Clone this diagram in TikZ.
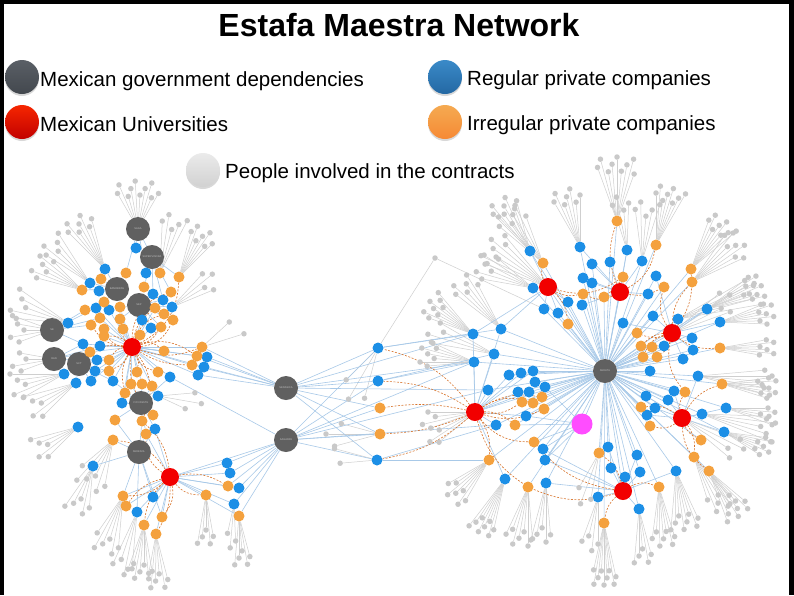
\documentclass[tikz,border=0pt]{standalone}
\usepackage{fontspec}
\setmainfont{Liberation Sans}
\usetikzlibrary{calc,shadows}

\definecolor{govgray}{HTML}{606060}
\definecolor{unired}{HTML}{F20000}
\definecolor{regblue}{HTML}{1C8FE6}
\definecolor{irrorange}{HTML}{F4A13E}
\definecolor{persongray}{HTML}{C9C9C9}
\definecolor{linkblue}{HTML}{A8C9E8}
\definecolor{linkgray}{HTML}{CFCFCF}
\definecolor{shadyline}{HTML}{D8742C}
\definecolor{pinknode}{HTML}{FF4DFF}
\definecolor{keygraytop}{HTML}{5A5F66}
\definecolor{keygraybot}{HTML}{43484E}
\definecolor{keybluetop}{HTML}{3A8AC8}
\definecolor{keybluebot}{HTML}{2468A3}

\pgfdeclarelayer{paper}
\pgfdeclarelayer{edges}
\pgfsetlayers{paper,edges,main}

\tikzset{
  gov/.style={circle, fill=govgray, minimum size=24pt, inner sep=0pt, text=white!75!black, font=\fontsize{2.6}{3}\selectfont},
  uni/.style={circle, fill=unired, minimum size=18pt, inner sep=0pt},
  reg/.style={circle, fill=regblue, minimum size=11pt, inner sep=0pt},
  irr/.style={circle, fill=irrorange, minimum size=11pt, inner sep=0pt},
  person/.style={circle, fill=persongray, minimum size=5.5pt, inner sep=0pt},
  contract/.style={draw=linkblue, line width=0.6pt},
  hire/.style={draw=linkgray, line width=0.5pt},
  shady/.style={draw=shadyline, line width=0.6pt, dash pattern=on 2pt off 1.5pt},
  legdot/.style={circle, minimum size=34pt, inner sep=0pt, drop shadow={opacity=0.3, shadow xshift=0pt, shadow yshift=-2pt}},
  legtext/.style={anchor=base west, inner sep=0pt, font=\fontsize{20.5}{24}\selectfont},
}

% people hanging from one company: parent / angle / spread / count / radius
\def\fanlist{G1/270/60/10/34, lb2/240/30/7/45, lo5/210/30/6/40, lb4/225/25/5/45,
  lo3/300/30/7/40, lo2/285/25/5/45, lb8/325/25/4/38, G5/180/40/5/28, lb11/200/30/5/45,
  G6/175/30/4/28, lb21/165/30/5/40, lb22/150/30/5/40, lb29/150/30/5/35, lo39/120/40/6/40,
  lb30/110/30/5/35, lo40/110/30/6/45, lb32/105/20/4/50, lo43/95/30/7/40, lo44/88/25/6/40,
  lo45/90/20/5/35, lb36/95/15/3/30, lo47/85/20/5/35, lb27/10/30/3/30, lo24/330/25/2/30,
  cb1/120/30/3/45, co2/180/30/3/40, cb3/185/20/2/30,
  ro1/270/40/9/50, rb2/255/30/7/45, rb1/240/30/7/45, ro3/235/30/6/50, R3/215/30/7/60,
  rb10/205/30/6/45, ro2/285/30/8/45, rb6/275/25/5/45, rb3/262/20/4/40, ro5/305/30/8/45,
  ro6/320/30/7/50, rb19/335/25/8/45, rb18/340/20/5/70, rb20/350/25/7/40, ro16/0/20/6/40,
  R5/330/20/4/55, rb26/5/20/5/60, ro17/5/25/7/40, rb58/10/20/5/35, rb57/12/20/5/60,
  R7/30/20/4/55, rb59/20/25/7/35, ro34/55/30/8/40, ro33/60/25/6/45, rb60/80/30/8/45,
  ro27/85/25/7/45, rb56/85/20/5/40, ro28/90/25/9/48, rb55/100/20/4/40, rb49/95/20/5/45,
  ro26/110/20/3/40, ro25/100/30/7/45, rb48/115/25/8/45, ro24/135/30/7/40, R6/160/40/7/40,
  rb30/190/30/7/40, rb29/200/20/4/55, rb27/215/30/8/40, rb28/230/25/6/50}

\newcommand\peoplefan[5]{%
  \foreach \k in {1,...,#4}{%
    \pgfmathsetmacro\ang{#2-#3/2+(\k-1)*#3/(#4-1)}%
    \pgfmathsetmacro\rad{#5+mod(\k,3)*7}%
    \node[person] (#1-p\k) at ($(#1)+(\ang:\rad)$) {};%
  }%
}

\begin{document}
\begin{tikzpicture}[x=1pt, y=-1pt]
  %%%%% FRAME %%%%%
  \useasboundingbox (0,0) rectangle (794,595);
  \begin{pgfonlayer}{paper}
    \fill[white] (0,0) rectangle (794,595);
    \fill[black] (0,0) rectangle (794,4);
    \fill[black] (0,0) rectangle (4,595);
    \fill[black] (789,0) rectangle (794,595);
  \end{pgfonlayer}

  %%%%% TITLE AND KEY %%%%%
  \node[anchor=base, inner sep=0pt, font=\fontsize{32}{36}\selectfont\bfseries] (title) at (399,36) {Estafa Maestra Network};

  \node[legdot, top color=keygraytop, bottom color=keygraybot] (keygov) at (22,77) {};
  \node[legtext] (keygovtext) at (40,86) {Mexican government dependencies};
  \node[legdot, top color=unired!70!orange, bottom color=unired!80!black] (keyuni) at (22,122) {};
  \node[legtext] (keyunitext) at (40,131) {Mexican Universities};
  \node[legdot, top color=keybluetop, bottom color=keybluebot] (keyreg) at (445,77) {};
  \node[legtext] (keyregtext) at (467,85) {Regular private companies};
  \node[legdot, top color=irrorange!90!white, bottom color=irrorange!85!red] (keyirr) at (445,122) {};
  \node[legtext] (keyirrtext) at (467,130) {Irregular private companies};
  \node[legdot, top color=black!8, bottom color=black!18] (keyppl) at (203,170) {};
  \node[legtext] (keyppltext) at (225,178) {People involved in the contracts};

  %%%%% DEPENDENCIES AND UNIVERSITIES %%%%%
  \foreach \n/\x/\y/\t in {G1/138/229/SAGA, G2/152/257/SUPERVISORA, G3/117/289/BANOBRAS,
      G4/139/305/SEP, G5/52/330/SE, G6/54/359/RAN, G7/79/364/SCT, G8/141/403/FOVISSSTE,
      G9/139/452/SEDESOL, C1/286/388/SENASICA, C2/286/440/SAGARPA, H/605/371/SEDATU}
    \node[gov] (\n) at (\x,\y) {\t};
  \foreach \n/\x/\y in {R1/132/347, R2/170/477, R3/548/287, R4/620/292, R5/672/333,
      R6/475/412, R7/682/418, R8/623/491}
    \node[uni] (\n) at (\x,\y) {};
  \node[circle, fill=pinknode, minimum size=21pt, inner sep=0pt] (M) at (582,424) {};

  %%%%% LEFT COMPANIES %%%%%
  \foreach \n/\x/\y in {lb1/136/248, lb2/105/269, lb3/146/273, lb4/90/283, lb5/99/291,
      lb6/153/294, lb7/163/300, lb8/172/307, lb9/96/308, lb10/109/310, lb11/68/323,
      lb12/142/320, lb13/151/328, lb14/83/344, lb15/100/346, lb16/207/357, lb17/204/367,
      lb18/198/375, lb19/97/360, lb20/95/371, lb21/64/374, lb22/76/383, lb23/91/381,
      lb24/113/381, lb25/170/377, lb26/122/403, lb27/158/396, lb28/155/429, lb29/78/427,
      lb30/93/466, lb31/153/497, lb32/137/512, lb33/227/463, lb34/230/473, lb35/239/488,
      lb36/234/504}
    \node[reg] (\n) at (\x,\y) {};
  \foreach \n/\x/\y in {lo1/126/273, lo2/160/273, lo3/179/277, lo4/101/279, lo5/82/290,
      lo6/144/287, lo7/171/292, lo8/104/302, lo9/85/310, lo10/100/318, lo11/120/307,
      lo12/155/308, lo13/120/319, lo14/164/314, lo15/173/320, lo16/91/325, lo17/104/329,
      lo18/123/329, lo19/161/327, lo20/140/335, lo21/104/336, lo22/164/351, lo23/90/352,
      lo24/202/347, lo25/197/356, lo26/192/365, lo27/109/360, lo28/109/371, lo29/137/372,
      lo30/158/372, lo31/125/393, lo32/131/384, lo33/142/384, lo34/152/386, lo35/115/420,
      lo36/142/421, lo37/153/415, lo38/146/434, lo39/113/440, lo40/123/496, lo41/126/506,
      lo42/162/517, lo43/144/525, lo44/156/534, lo45/206/495, lo46/228/486, lo47/239/516}
    \node[irr] (\n) at (\x,\y) {};

  %%%%% MIDDLE COMPANIES %%%%%
  \foreach \n/\x/\y in {cb1/378/348, cb2/378/381, cb3/377/460}
    \node[reg] (\n) at (\x,\y) {};
  \foreach \n/\x/\y in {co1/380/408, co2/380/434}
    \node[irr] (\n) at (\x,\y) {};
  \node[person] (drifter) at (435,258) {};

  %%%%% RIGHT COMPANIES %%%%%
  \foreach \n/\x/\y in {rb1/530/251, rb2/580/247, rb3/627/250, rb4/592/264, rb5/610/262,
      rb6/642/261, rb7/583/278, rb8/592/283, rb9/656/276, rb10/533/288, rb11/648/294,
      rb12/568/302, rb13/544/309, rb14/558/313, rb15/582/305, rb16/623/323, rb17/653/316,
      rb18/678/319, rb19/707/309, rb20/720/322, rb21/692/338, rb22/693/350, rb23/683/359,
      rb24/664/346, rb25/650/371, rb26/698/376, rb27/473/334, rb28/501/329, rb29/494/354,
      rb30/474/362, rb31/509/375, rb32/521/373, rb33/533/371, rb34/535/382, rb35/545/387,
      rb36/488/390, rb37/518/392, rb38/529/392, rb39/646/396, rb40/674/391, rb41/668/400,
      rb42/655/408, rb43/647/415, rb44/526/416, rb45/496/425, rb46/543/449, rb47/545/460,
      rb48/505/479, rb49/546/483, rb50/608/447, rb51/637/455, rb52/611/468, rb53/640/472,
      rb54/625/477, rb55/598/497, rb56/639/509, rb57/702/414, rb58/726/408, rb59/724/432,
      rb60/676/471}
    \node[reg] (\n) at (\x,\y) {};
  \foreach \n/\x/\y in {ro1/617/221, ro2/656/245, ro3/543/263, ro4/623/277, ro5/691/269,
      ro6/692/282, ro7/583/294, ro8/604/297, ro9/664/287, ro10/568/324, ro11/637/333,
      ro12/641/346, ro13/652/347, ro14/643/357, ro15/657/357, ro16/720/348, ro17/722/384,
      ro18/542/397, ro19/522/402, ro20/533/403, ro21/544/409, ro22/515/425, ro23/534/442,
      ro24/489/460, ro25/528/487, ro26/599/453, ro27/659/487, ro28/604/523, ro29/685/392,
      ro30/641/407, ro31/650/426, ro32/701/440, ro33/694/457, ro34/709/471}
    \node[irr] (\n) at (\x,\y) {};

  %%%%% PEOPLE %%%%%
  \foreach \p/\a/\s/\c/\r in \fanlist {\peoplefan{\p}{\a}{\s}{\c}{\r}}

  %%%%% CONTRACTS %%%%%
  \begin{pgfonlayer}{edges}
    \foreach \p/\a/\s/\c/\r in \fanlist {
      \foreach \k in {1,...,\c} \draw[hire] (\p) -- (\p-p\k);
    }
    \draw[hire] (cb1) -- (drifter);
    \draw[hire] (drifter) -- (rb13);

    \foreach \c in {lb1,lo1,lb3,lo2} \draw[contract] (G1) -- (\c);
    \foreach \c in {lb3,lo2,lo3,lb6,lo6,lb7,lo7} \draw[contract] (G2) -- (\c);
    \foreach \c in {lb2,lo4,lb4,lb5,lo5,lo8,lo1} \draw[contract] (G3) -- (\c);
    \foreach \c in {lb6,lb7,lb8,lo12,lo14,lo15,lb12,lb13,lo11,lo13,lo19} \draw[contract] (G4) -- (\c);
    \foreach \c in {lb11,lo9,lo16,lb9,lb14,lo10} \draw[contract] (G5) -- (\c);
    \foreach \c in {lb14,lb19,lb21,lo23,lb15} \draw[contract] (G6) -- (\c);
    \foreach \c in {lb19,lb20,lb22,lb23,lo27,lo28,lb24} \draw[contract] (G7) -- (\c);
    \foreach \c in {lo31,lo32,lo33,lo34,lb26,lb27,lo35,lo36,lo37,lb28,lo38,lb24,lb25} \draw[contract] (G8) -- (\c);
    \foreach \c in {lo38,lo39,lb28,lo35,lo36,lb30,lb31,lo40,lo42,lb32} \draw[contract] (G9) -- (\c);
    \foreach \c in {lo13,lo17,lo18,lo20,lo21,lo22,lo23,lo27,lo28,lo29,lo30,lb12,lb13,lb14,
        lb15,lb16,lb17,lb18,lb19,lb20,lb23,lb24,lb25,lo24,lo25,lo26,lo32,lo33,lo34,lb26,
        lo31,lb10,lo10,lb9,lo11,lo12} \draw[contract] (R1) -- (\c);
    \foreach \c in {lb31,lb32,lo42,lo43,lo44,lo41,lo40,lb33,lb34,lb35,lb36,lo45,lo46,lo47,lb28,lo38}
      \draw[contract] (R2) -- (\c);
    \foreach \c in {lo24,lo25,lo26,lb16,lb17,lb18,cb1,cb2,co1,co2,cb3,rb27,rb30,rb36}
      \draw[contract] (C1) -- (\c);
    \foreach \c in {lb33,lb34,lb35,lb36,lo46,lo47,R2,lb25,cb1,cb2,co1,co2,cb3,rb30,rb36,rb45}
      \draw[contract] (C2) -- (\c);
    \draw[contract] (cb1) -- (rb27);
    \draw[contract] (cb1) -- (rb28);
    \draw[contract] (cb2) -- (rb30);
    \draw[contract] (cb2) -- (rb29);
    \draw[contract] (cb3) -- (rb45);
    \draw[contract] (cb3) -- (ro24);
    \foreach \c in {rb1,rb10,rb12,rb13,rb14,rb27,rb28} \draw[contract] (R3) -- (\c);
    \foreach \c in {rb2,rb3,rb4,rb5,rb6,rb7,rb8,rb11,rb15} \draw[contract] (R4) -- (\c);
    \foreach \c in {rb16,rb17,rb18,rb19,rb20,rb21,rb22,rb23,rb24,rb9} \draw[contract] (R5) -- (\c);
    \foreach \c in {rb27,rb28,rb29,rb30,rb31,rb32,rb33,rb36,rb37,rb38,rb44,rb45,rb48}
      \draw[contract] (R6) -- (\c);
    \foreach \c in {rb39,rb40,rb41,rb42,rb43,rb57,rb58,rb59,rb26} \draw[contract] (R7) -- (\c);
    \foreach \c in {rb46,rb47,rb49,rb50,rb51,rb52,rb53,rb54,rb55,rb56,rb60} \draw[contract] (R8) -- (\c);
    \foreach \c in {rb44,rb46,rb47,ro22,ro23,rb35} \draw[contract] (M) -- (\c);
    % the hub reaches every firm on the right
    \foreach \c in {rb1,rb2,rb3,rb4,rb5,rb6,rb7,rb8,rb9,rb10,rb11,rb12,rb13,rb14,rb15,rb16,
        rb17,rb18,rb19,rb20,rb21,rb22,rb23,rb24,rb25,rb26,rb27,rb28,rb29,rb30,rb31,rb32,rb33,
        rb34,rb35,rb36,rb37,rb38,rb39,rb40,rb41,rb42,rb43,rb44,rb45,rb46,rb47,rb48,rb49,rb50,
        rb51,rb52,rb53,rb54,rb55,rb56,rb57,rb58,rb59,rb60,ro1,ro2,ro3,ro4,ro5,ro6,ro7,ro8,ro9,
        ro10,ro11,ro12,ro13,ro14,ro15,ro16,ro17,ro18,ro19,ro20,ro21,ro22,ro23,ro24,ro25,ro26,
        ro27,ro28,ro29,ro30,ro31,ro32,ro33,ro34,R3,R4,R5,R6,R7,R8,M}
      \draw[contract] (H) -- (\c);

    %%%%% IRREGULAR LINKS %%%%%
    \foreach \c/\b in {lo22/30,lo24/-20,lo25/25,lo26/-15,lo29/20,lo30/-25,lo20/15,lo19/-20,
        lo14/25,lo15/-30,lo7/35,lo3/-30,lo18/20,lo21/-20,lo17/30,lo27/-25,lo28/20,lo31/-20,
        lo36/30,lo37/-25,lo12/20,lo23/-15,lo16/25}
      \draw[shady] (R1) to[bend left=\b] (\c);
    \foreach \c/\b in {lo40/20,lo41/-20,lo42/25,lo43/-20,lo44/15,lo45/-25,lo46/20,lo39/-25,
        lo38/30,lo36/-20}
      \draw[shady] (R2) to[bend left=\b] (\c);
    \foreach \c/\b in {cb1/-20,cb2/-15,co1/-10,co2/10,cb3/15,ro18/20,ro19/-20,ro20/25,
        ro21/-20,ro22/20,ro23/-25,ro24/20,ro25/-20}
      \draw[shady] (R6) to[bend left=\b] (\c);
    \foreach \c/\b in {ro3/20,ro7/-20,ro10/20,ro4/-25} \draw[shady] (R3) to[bend left=\b] (\c);
    \foreach \c/\b in {ro4/20,ro8/-20,ro7/25,ro9/-20,ro1/20,ro2/-25} \draw[shady] (R4) to[bend left=\b] (\c);
    \foreach \c/\b in {ro11/20,ro12/-20,ro13/20,ro14/-25,ro15/20,ro16/-20,ro9/25,ro5/-20,
        ro6/20,ro29/-25}
      \draw[shady] (R5) to[bend left=\b] (\c);
    \foreach \c/\b in {ro29/20,ro30/-20,ro31/25,ro32/-20,ro33/20,ro34/-25,ro17/20}
      \draw[shady] (R7) to[bend left=\b] (\c);
    \foreach \c/\b in {ro25/20,ro26/-20,ro27/25,ro28/-20,ro23/20} \draw[shady] (R8) to[bend left=\b] (\c);
  \end{pgfonlayer}
\end{tikzpicture}
\end{document}
